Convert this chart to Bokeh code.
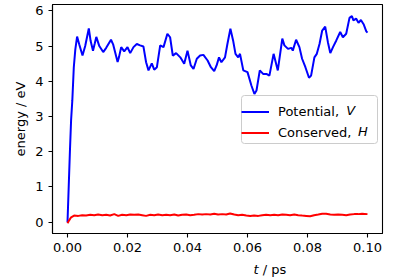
from bokeh.plotting import figure
from bokeh.layouts import column
from bokeh.models import (Range1d, FixedTicker, NumeralTickFormatter, Legend, LegendItem, Label,
                          BoxAnnotation)
from bokeh.embed import file_html
from bokeh.resources import INLINE

# Potential energy V (eV) vs time t (ps)
t_pot = [0.0000, 0.0004, 0.0008, 0.0012, 0.0016, 0.0021, 0.0026, 0.0032, 0.0039, 0.0050,
         0.0059, 0.0071, 0.0077, 0.0085, 0.0091, 0.0096, 0.0106, 0.0119, 0.0129, 0.0145,
         0.0152, 0.0167, 0.0172, 0.0179, 0.0189, 0.0200, 0.0209, 0.0220, 0.0231, 0.0242,
         0.0253, 0.0262, 0.0270, 0.0281, 0.0289, 0.0298, 0.0309, 0.0320, 0.0333, 0.0342,
         0.0351, 0.0362, 0.0376, 0.0389, 0.0400, 0.0411, 0.0420, 0.0431, 0.0442, 0.0453,
         0.0467, 0.0478, 0.0489, 0.0497, 0.0505, 0.0513, 0.0525, 0.0533, 0.0543, 0.0552,
         0.0560, 0.0569, 0.0575, 0.0586, 0.0600, 0.0613, 0.0623, 0.0630, 0.0641, 0.0652,
         0.0663, 0.0673, 0.0687, 0.0701, 0.0716, 0.0723, 0.0735, 0.0746, 0.0751, 0.0762,
         0.0773, 0.0782, 0.0793, 0.0805, 0.0812, 0.0823, 0.0831, 0.0840, 0.0849, 0.0859,
         0.0868, 0.0876, 0.0885, 0.0896, 0.0909, 0.0918, 0.0929, 0.0940, 0.0948, 0.0953,
         0.0962, 0.0970, 0.0978, 0.0987, 0.0996, 0.1000]
v_pot = [0.00, 1.00, 2.00, 2.90, 3.45, 4.40, 4.90, 5.27, 5.05, 4.73,
         5.00, 5.50, 5.15, 4.87, 5.08, 5.26, 5.00, 4.83, 4.95, 5.18,
         5.05, 4.55, 4.70, 4.97, 4.85, 4.97, 4.80, 4.97, 5.06, 5.02,
         4.99, 4.54, 4.31, 4.51, 4.33, 4.40, 5.02, 4.97, 5.35, 5.25,
         4.73, 4.80, 4.68, 4.50, 4.87, 4.45, 4.35, 4.64, 4.73, 4.75,
         4.59, 4.40, 4.29, 4.45, 4.68, 4.54, 4.68, 5.06, 5.49, 5.16,
         4.78, 4.68, 4.78, 4.31, 4.26, 3.88, 3.64, 3.74, 4.31, 4.21,
         4.21, 4.16, 4.78, 4.31, 5.21, 5.02, 4.92, 4.95, 4.87, 5.18,
         4.97, 4.64, 4.40, 4.10, 4.16, 4.68, 4.78, 5.06, 5.44, 5.55,
         5.11, 4.80, 4.97, 5.16, 5.40, 5.25, 5.35, 5.80, 5.85, 5.73,
         5.78, 5.66, 5.74, 5.62, 5.42, 5.38]

# Conserved quantity H (eV) vs time t (ps)
t_cons = [0.0000, 0.0006, 0.0012, 0.0022, 0.0036, 0.0049, 0.0062, 0.0076, 0.0089, 0.0102,
          0.0116, 0.0129, 0.0142, 0.0156, 0.0169, 0.0182, 0.0196, 0.0209, 0.0222, 0.0236,
          0.0249, 0.0262, 0.0276, 0.0289, 0.0302, 0.0316, 0.0329, 0.0342, 0.0356, 0.0369,
          0.0382, 0.0396, 0.0409, 0.0422, 0.0436, 0.0449, 0.0462, 0.0476, 0.0489, 0.0502,
          0.0516, 0.0529, 0.0542, 0.0556, 0.0569, 0.0582, 0.0596, 0.0609, 0.0622, 0.0636,
          0.0649, 0.0662, 0.0676, 0.0689, 0.0702, 0.0716, 0.0729, 0.0742, 0.0756, 0.0769,
          0.0782, 0.0796, 0.0809, 0.0822, 0.0836, 0.0849, 0.0862, 0.0876, 0.0889, 0.0902,
          0.0916, 0.0929, 0.0942, 0.0956, 0.0969, 0.0982, 0.1000]
h_cons = [-0.03, 0.06, 0.14, 0.19, 0.18, 0.20, 0.19, 0.21, 0.20, 0.22,
          0.20, 0.21, 0.19, 0.23, 0.18, 0.21, 0.20, 0.22, 0.21, 0.22,
          0.20, 0.18, 0.21, 0.20, 0.22, 0.20, 0.21, 0.20, 0.22, 0.19,
          0.21, 0.22, 0.20, 0.21, 0.23, 0.22, 0.23, 0.22, 0.24, 0.22,
          0.23, 0.22, 0.25, 0.22, 0.20, 0.21, 0.19, 0.18, 0.19, 0.18,
          0.20, 0.21, 0.20, 0.21, 0.20, 0.22, 0.21, 0.20, 0.22, 0.20,
          0.19, 0.18, 0.17, 0.20, 0.22, 0.24, 0.24, 0.22, 0.21, 0.22,
          0.21, 0.20, 0.22, 0.23, 0.23, 0.24, 0.23]

x_ticks = [0.00, 0.02, 0.04, 0.06, 0.08, 0.10]
y_ticks = [0, 1, 2, 3, 4, 5, 6]
series_names = ["Potential,", "Conserved,"]
series_symbols = ["V", "H"]
x_label_parts = ["t", "/ ps"]
y_label = "energy / eV"
FONT = "DejaVu Sans"
FS = "13px"
FSN = 13.0

W, H_MAIN, H_XLAB = 400, 256, 24
B_LEFT, B_RIGHT, B_TOP, B_BOTTOM = 52, 18, 4, 23

p = figure(width=W, height=H_MAIN, output_backend="svg", toolbar_location=None,
           x_range=Range1d(-0.005, 0.105), y_range=Range1d(-0.32, 6.18),
           min_border_left=B_LEFT, min_border_right=B_RIGHT,
           min_border_top=B_TOP, min_border_bottom=B_BOTTOM)
p.grid.visible = False
p.outline_line_color = "black"
p.outline_line_width = 1.1
p.background_fill_color = "white"
p.border_fill_color = "white"

for ax in (p.xaxis[0], p.yaxis[0]):
    ax.axis_line_color = "black"
    ax.axis_line_width = 1.1
    ax.major_tick_line_color = "black"
    ax.major_tick_line_width = 1.1
    ax.major_tick_in = 0
    ax.major_tick_out = 4
    ax.minor_tick_line_color = None
    ax.major_label_text_font = FONT
    ax.major_label_text_font_size = FS
    ax.major_label_text_color = "black"
    ax.major_label_standoff = 5
    ax.axis_label_text_font = FONT
    ax.axis_label_text_font_size = FS
    ax.axis_label_text_font_style = "normal"
    ax.axis_label_text_color = "black"

p.xaxis.ticker = FixedTicker(ticks=x_ticks)
p.xaxis.formatter = NumeralTickFormatter(format="0.00")
p.yaxis.ticker = FixedTicker(ticks=y_ticks)
p.yaxis.axis_label = y_label
p.yaxis.axis_label_standoff = 4

r1 = p.line(t_pot, v_pot, line_color="#0000ff", line_width=2.0)
r2 = p.line(t_cons, h_cons, line_color="#ff0000", line_width=2.0)

# legend geometry (frame-relative screen pixels, origin at frame bottom-left)
L_PAD, L_GLYPH, L_STANDOFF, L_ITEM, L_SPACING, L_LABELW = 5, 28, 9, 17, 4, 89
frame_w = W - B_LEFT - B_RIGHT
leg_w = 2 * L_PAD + L_GLYPH + L_STANDOFF + L_LABELW
leg_h = 2 * L_PAD + 2 * L_ITEM + L_SPACING
leg_left, leg_bottom = 189, 90
leg_right = leg_left + leg_w
leg_top = leg_bottom + leg_h

# legend frame drawn as a box behind the entries
p.add_layout(BoxAnnotation(left=leg_left, right=leg_right, bottom=leg_bottom, top=leg_top,
                           left_units="screen", right_units="screen",
                           bottom_units="screen", top_units="screen",
                           fill_color="white", fill_alpha=0.8,
                           line_color="#cccccc", line_width=1, line_alpha=1.0,
                           border_radius=3, level="annotation"))

legend = Legend(items=[LegendItem(label=series_names[0], renderers=[r1]),
                       LegendItem(label=series_names[1], renderers=[r2])],
                location=(leg_left, leg_bottom + 2.5), margin=0, padding=L_PAD,
                spacing=L_SPACING, glyph_width=L_GLYPH, glyph_height=L_ITEM,
                label_height=L_ITEM, label_width=L_LABELW, label_standoff=L_STANDOFF,
                label_text_font=FONT, label_text_font_size=FS, label_text_color="black",
                border_line_color=None, background_fill_alpha=0.0)
p.add_layout(legend)

# italic symbols appended to legend labels
text_x0 = leg_left + L_PAD + L_GLYPH + L_STANDOFF
name_em = [4.735 + 0.318, 5.651 + 0.318]  # DejaVu Sans advance widths incl. space
for i, sym in enumerate(series_symbols):
    yc = leg_top - L_PAD - L_ITEM / 2 - i * (L_ITEM + L_SPACING) - 1
    p.add_layout(Label(x=text_x0 + name_em[i] * FSN - 3, y=yc, x_units="screen",
                       y_units="screen", text=sym, text_font=FONT, text_font_size=FS,
                       text_font_style="italic", text_color="black",
                       text_baseline="middle", text_align="left", level="overlay"))

# strip below the chart holding the x-axis label "t / ps" (italic t)
q = figure(width=W, height=H_XLAB, output_backend="svg", toolbar_location=None,
           x_axis_type=None, y_axis_type=None, min_border=0,
           x_range=Range1d(0, 1), y_range=Range1d(0, 1))
q.grid.visible = False
q.outline_line_color = None
q.background_fill_color = "white"
q.border_fill_color = "white"
xc = B_LEFT + frame_w / 2
t_w = 0.392 * FSN + 0.318 * FSN
q.add_layout(Label(x=xc - 16, y=11, x_units="screen", y_units="screen", text=x_label_parts[0],
                   text_font=FONT, text_font_size=FS, text_font_style="italic",
                   text_color="black", text_baseline="alphabetic", text_align="left"))
q.add_layout(Label(x=xc - 16 + t_w, y=11, x_units="screen", y_units="screen",
                   text=x_label_parts[1], text_font=FONT, text_font_size=FS,
                   text_color="black", text_baseline="alphabetic", text_align="left"))

layout = column(p, q, spacing=0)
open("out.html", "w").write(file_html(layout, INLINE))
